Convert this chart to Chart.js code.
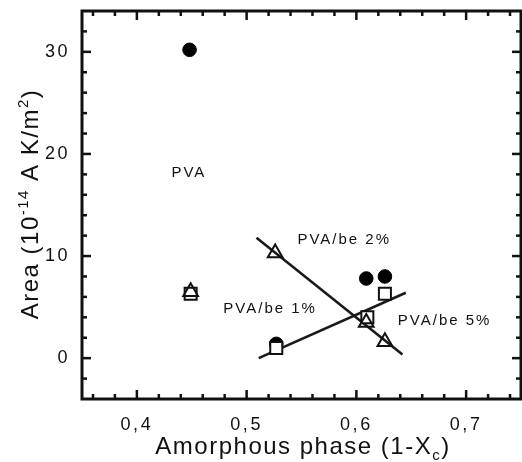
<!DOCTYPE html>
<html>
<head>
<meta charset="utf-8">
<script src="https://cdn.jsdelivr.net/npm/chart.js@4.4.1/dist/chart.umd.min.js"></script>
<style>
  html, body { margin: 0; padding: 0; background: #fff; overflow: hidden; }
  #wrap { width: 522px; height: 462px; }
  canvas { display: block; }
</style>
</head>
<body>
<div id="wrap"><canvas id="c" width="522" height="462" style="width:522px;height:462px"></canvas></div>
<script>
// ---- data ----
const pvaX = [0.448, 0.527, 0.609, 0.626];
const pvaY = [30.2, 1.4, 7.8, 8.0];
const be1X = [0.449, 0.527, 0.610, 0.626];
const be1Y = [6.3, 1.0, 4.0, 6.3];
const be2X = [0.449, 0.526, 0.609, 0.626];
const be2Y = [6.5, 10.3, 3.5, 1.6];
const fitDownX = [0.509, 0.642];
const fitDownY = [11.8, 0.35];
const fitUpX = [0.511, 0.645];
const fitUpY = [0.0, 6.4];
const xMajorTicks = [0.4, 0.5, 0.6, 0.7];
const xMinorTicks = [0.36, 0.38, 0.42, 0.44, 0.46, 0.48, 0.52, 0.54, 0.56, 0.58, 0.62, 0.64, 0.66, 0.68, 0.72, 0.74];
const yMajorTicks = [0, 10, 20, 30];
const yMinorTicks = [-2, 2, 4, 6, 8, 12, 14, 16, 18, 22, 24, 26, 28, 32];
const labelTexts = ["PVA", "PVA/be 2%", "PVA/be 1%", "PVA/be 5%"];
const labelX = [0.4465, 0.5880, 0.5205, 0.6795];
const labelY = [18.1, 11.6, 4.8, 3.65];
const xTitle = ["Amorphous phase (1-X", "c", ")"];
const yTitle = ["Area (10", "-14", " A K/m", "2", ")"];

const toPts = (xs, ys) => xs.map((x, i) => ({x: x, y: ys[i]}));
const FONT = '"Liberation Sans", Arial, sans-serif';
const INK = '#111';

const framePlugin = {
  id: 'frame',
  beforeDraw(chart) {
    chart.ctx.letterSpacing = '2.5px';
  },
  afterDraw(chart) {
    const ctx = chart.ctx;
    const a = chart.chartArea;
    const xs = chart.scales.x, ys = chart.scales.y;
    ctx.save();
    ctx.strokeStyle = INK;
    ctx.lineCap = 'butt';
    ctx.lineWidth = 2.5;
    const xt = (vals, len) => vals.forEach(v => {
      const p = xs.getPixelForValue(v);
      ctx.beginPath(); ctx.moveTo(p, a.bottom); ctx.lineTo(p, a.bottom - len); ctx.stroke();
      ctx.beginPath(); ctx.moveTo(p, a.top); ctx.lineTo(p, a.top + len); ctx.stroke();
    });
    const yt = (vals, len) => vals.forEach(v => {
      const p = ys.getPixelForValue(v);
      ctx.beginPath(); ctx.moveTo(a.left, p); ctx.lineTo(a.left + len, p); ctx.stroke();
      ctx.beginPath(); ctx.moveTo(a.right, p); ctx.lineTo(a.right - len, p); ctx.stroke();
    });
    xt(xMajorTicks, 9); xt(xMinorTicks, 5);
    yt(yMajorTicks, 9); yt(yMinorTicks, 5);
    ctx.lineWidth = 3;
    ctx.strokeRect(a.left, a.top, a.right - a.left, a.bottom - a.top);

    // annotations
    ctx.fillStyle = INK;
    ctx.font = '15px ' + FONT;
    ctx.letterSpacing = '2px';
    ctx.textAlign = 'center';
    ctx.textBaseline = 'middle';
    labelTexts.forEach((t, i) => {
      ctx.fillText(t, xs.getPixelForValue(labelX[i]) + 1, ys.getPixelForValue(labelY[i]));
    });

    // axis titles with sub/superscripts
    const big = '24px ' + FONT, small = '15px ' + FONT;
    ctx.letterSpacing = '1.5px';
    ctx.textAlign = 'left';
    ctx.textBaseline = 'alphabetic';
    const drawRuns = (runs, cx, baseY) => {
      let total = 0;
      runs.forEach(r => { ctx.font = r.f; total += ctx.measureText(r.t).width; });
      let x = cx - total / 2;
      runs.forEach(r => {
        ctx.font = r.f;
        ctx.fillText(r.t, x, baseY + r.dy);
        x += ctx.measureText(r.t).width;
      });
    };
    drawRuns([
      {t: xTitle[0], f: big, dy: 0},
      {t: xTitle[1], f: small, dy: 6},
      {t: xTitle[2], f: big, dy: 0}
    ], 303, 454);
    ctx.save();
    ctx.translate(38, 204);
    ctx.rotate(-Math.PI / 2);
    drawRuns([
      {t: yTitle[0], f: big, dy: 0},
      {t: yTitle[1], f: small, dy: -10},
      {t: yTitle[2], f: big, dy: 0},
      {t: yTitle[3], f: small, dy: -10},
      {t: yTitle[4], f: big, dy: 0}
    ], 0, 0);
    ctx.restore();
    ctx.restore();
  }
};

new Chart(document.getElementById('c'), {
  type: 'scatter',
  data: {
    datasets: [
      { label: 'PVA/be 2%', data: toPts(be2X, be2Y), order: 0,
        pointStyle: 'triangle', pointRadius: 8.5, pointBorderWidth: 2,
        borderColor: INK, backgroundColor: 'rgba(0,0,0,0)' },
      { label: 'PVA/be 1%', data: toPts(be1X, be1Y), order: 1,
        pointStyle: 'rect', pointRadius: 8.5, pointBorderWidth: 2,
        borderColor: INK, backgroundColor: '#fff' },
      { label: 'PVA', data: toPts(pvaX, pvaY), order: 2,
        pointStyle: 'circle', pointRadius: 6.8, pointBorderWidth: 1,
        borderColor: '#000', backgroundColor: '#000' },
      { label: 'fit down', data: toPts(fitDownX, fitDownY), order: 3, type: 'line',
        showLine: true, pointRadius: 0, borderWidth: 2.6, borderColor: '#1a1a1a', fill: false },
      { label: 'fit up', data: toPts(fitUpX, fitUpY), order: 3, type: 'line',
        showLine: true, pointRadius: 0, borderWidth: 2.6, borderColor: '#1a1a1a', fill: false }
    ]
  },
  options: {
    responsive: false,
    animation: false,
    events: [],
    layout: { autoPadding: false, padding: { top: 11, right: 1, left: 0, bottom: 0 } },
    plugins: { legend: { display: false }, tooltip: { enabled: false } },
    scales: {
      x: {
        type: 'linear', min: 0.35, max: 0.75,
        grid: { display: false, drawTicks: false },
        border: { display: false },
        afterBuildTicks: s => { s.ticks = xMajorTicks.map(v => ({value: v})); },
        afterFit: s => { s.height = 63; s.paddingLeft = 0; s.paddingRight = 0; },
        ticks: {
          padding: 15, color: INK, font: { family: FONT, size: 18 },
          callback: v => v.toFixed(1).replace('.', ',')
        }
      },
      y: {
        type: 'linear', min: -4, max: 34,
        grid: { display: false, drawTicks: false },
        border: { display: false },
        afterBuildTicks: s => { s.ticks = yMajorTicks.map(v => ({value: v})); },
        afterFit: s => { s.width = 82; s.paddingTop = 0; s.paddingBottom = 0; },
        ticks: {
          padding: 12, color: INK, font: { family: FONT, size: 18 },
          callback: v => String(v)
        }
      }
    }
  },
  plugins: [framePlugin]
});
</script>
</body>
</html>
